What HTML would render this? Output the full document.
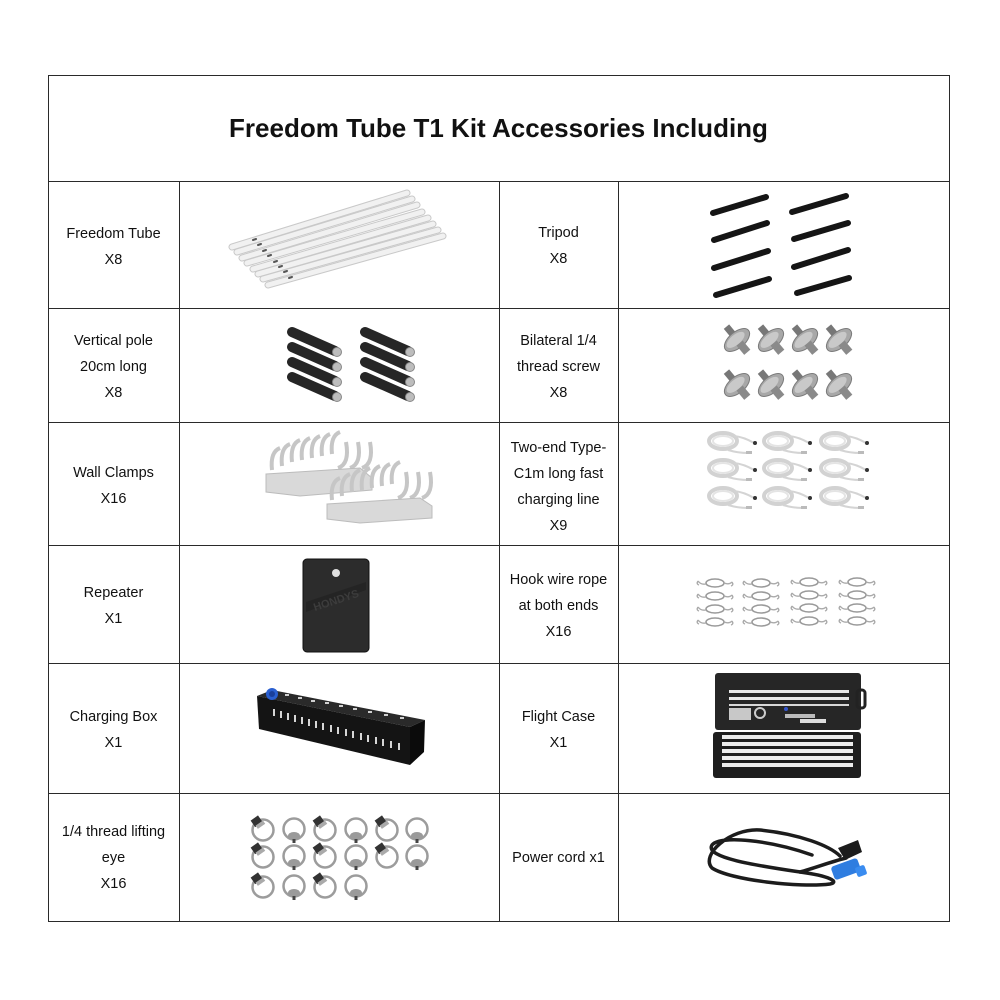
<!DOCTYPE html>
<html><head><meta charset="utf-8"><style>
html,body{margin:0;padding:0;background:#fff;}
body{width:1000px;height:1000px;position:relative;overflow:hidden;font-family:"Liberation Sans",Arial,sans-serif;color:#111;}
.h{position:absolute;height:1px;background:#2a2a2a;}
.v{position:absolute;width:1px;background:#2a2a2a;}
.t{position:absolute;display:flex;align-items:center;justify-content:center;text-align:center;font-size:14.5px;line-height:26px;white-space:nowrap;}
.title{position:absolute;left:48px;top:75px;width:901px;height:106px;display:flex;align-items:center;justify-content:center;font-weight:bold;font-size:26px;}
svg{position:absolute;left:0;top:0;}
</style></head><body>
<div class="h" style="left:48px;top:75px;width:902px"></div>
<div class="h" style="left:48px;top:181px;width:902px"></div>
<div class="h" style="left:48px;top:308px;width:902px"></div>
<div class="h" style="left:48px;top:422px;width:902px"></div>
<div class="h" style="left:48px;top:545px;width:902px"></div>
<div class="h" style="left:48px;top:663px;width:902px"></div>
<div class="h" style="left:48px;top:793px;width:902px"></div>
<div class="h" style="left:48px;top:921px;width:902px"></div>
<div class="v" style="left:48px;top:75px;height:847px"></div>
<div class="v" style="left:949px;top:75px;height:847px"></div>
<div class="v" style="left:179px;top:181px;height:741px"></div>
<div class="v" style="left:499px;top:181px;height:741px"></div>
<div class="v" style="left:618px;top:181px;height:741px"></div>

<div class="title">Freedom Tube T1 Kit Accessories Including</div>

<div class="t" style="left:48px;top:184px;width:131px;height:126px">Freedom Tube<br>X8</div>
<div class="t" style="left:48px;top:310px;width:131px;height:114px">Vertical pole<br>20cm long<br>X8</div>
<div class="t" style="left:48px;top:424px;width:131px;height:123px">Wall Clamps<br>X16</div>
<div class="t" style="left:48px;top:547px;width:131px;height:118px">Repeater<br>X1</div>
<div class="t" style="left:48px;top:665px;width:131px;height:129px">Charging Box<br>X1</div>
<div class="t" style="left:48px;top:795px;width:131px;height:126px">1/4 thread lifting<br>eye<br>X16</div>

<div class="t" style="left:499px;top:183px;width:119px;height:126px">Tripod<br>X8</div>
<div class="t" style="left:499px;top:310px;width:119px;height:114px">Bilateral 1/4<br>thread screw<br>X8</div>
<div class="t" style="left:499px;top:425px;width:119px;height:123px">Two-end Type-<br>C1m long fast<br>charging line<br>X9</div>
<div class="t" style="left:499px;top:547px;width:119px;height:118px">Hook wire rope<br>at both ends<br>X16</div>
<div class="t" style="left:499px;top:665px;width:119px;height:129px">Flight Case<br>X1</div>
<div class="t" style="left:499px;top:795px;width:119px;height:126px">Power cord x1</div>

<svg width="1000" height="1000" viewBox="0 0 1000 1000" xmlns="http://www.w3.org/2000/svg">
<!-- Freedom tubes -->
<g stroke-linecap="round">
<g stroke="#c9c9c9" stroke-width="7">
<line x1="232" y1="247" x2="407" y2="193"/>
<line x1="237" y1="252" x2="412" y2="199"/>
<line x1="242" y1="258" x2="417" y2="205"/>
<line x1="247" y1="263" x2="422" y2="212"/>
<line x1="253" y1="269" x2="428" y2="218"/>
<line x1="258" y1="274" x2="433" y2="224"/>
<line x1="263" y1="279" x2="438" y2="230"/>
<line x1="268" y1="285" x2="443" y2="236"/>
</g>
<g stroke="#f1f1f1" stroke-width="5">
<line x1="232" y1="247" x2="407" y2="193"/>
<line x1="237" y1="252" x2="412" y2="199"/>
<line x1="242" y1="258" x2="417" y2="205"/>
<line x1="247" y1="263" x2="422" y2="212"/>
<line x1="253" y1="269" x2="428" y2="218"/>
<line x1="258" y1="274" x2="433" y2="224"/>
<line x1="263" y1="279" x2="438" y2="230"/>
<line x1="268" y1="285" x2="443" y2="236"/>
</g>
<g stroke="#555" stroke-width="2">
<line x1="253" y1="240" x2="256" y2="239"/>
<line x1="258" y1="245" x2="261" y2="244"/>
<line x1="263" y1="251" x2="266" y2="250"/>
<line x1="268" y1="256" x2="271" y2="255"/>
<line x1="274" y1="262" x2="277" y2="261"/>
<line x1="279" y1="267" x2="282" y2="266"/>
<line x1="284" y1="272" x2="287" y2="271"/>
<line x1="289" y1="278" x2="292" y2="277"/>
</g>
</g>
<!-- Tripod sticks -->
<g stroke="#151515" stroke-width="6" stroke-linecap="round">
<line x1="713" y1="213" x2="766" y2="197"/>
<line x1="714" y1="240" x2="767" y2="223"/>
<line x1="714" y1="268" x2="768" y2="251"/>
<line x1="716" y1="295" x2="769" y2="279"/>
<line x1="792" y1="212" x2="846" y2="196"/>
<line x1="794" y1="239" x2="848" y2="223"/>
<line x1="794" y1="267" x2="848" y2="250"/>
<line x1="797" y1="293" x2="849" y2="278"/>
</g>
<!-- Vertical poles -->
<g stroke="#262626" stroke-width="10" stroke-linecap="round">
<line x1="292" y1="332" x2="335" y2="351"/>
<line x1="292" y1="347" x2="335" y2="366"/>
<line x1="292" y1="362" x2="335" y2="381"/>
<line x1="292" y1="377" x2="335" y2="396"/>
<line x1="365" y1="332" x2="408" y2="351"/>
<line x1="365" y1="347" x2="408" y2="366"/>
<line x1="365" y1="362" x2="408" y2="381"/>
<line x1="365" y1="377" x2="408" y2="396"/>
</g>
<g fill="#bdbdbd" stroke="#888" stroke-width="1">
<circle cx="337" cy="352" r="4.5"/><circle cx="337" cy="367" r="4.5"/><circle cx="337" cy="382" r="4.5"/><circle cx="337" cy="397" r="4.5"/>
<circle cx="410" cy="352" r="4.5"/><circle cx="410" cy="367" r="4.5"/><circle cx="410" cy="382" r="4.5"/><circle cx="410" cy="397" r="4.5"/>
</g>
<!-- Bilateral screws -->
<defs>
<g id="scr">
<rect x="-3" y="-17" width="7" height="10" fill="#777" transform="rotate(-40)"/>
<ellipse cx="0" cy="0" rx="15" ry="8" fill="#a8a8a8" stroke="#7a7a7a" stroke-width="1" transform="rotate(-40)"/>
<ellipse cx="-1" cy="-1" rx="11" ry="5" fill="#c9c9c9" transform="rotate(-40)"/>
<rect x="-4" y="4" width="8" height="12" fill="#8a8a8a" transform="rotate(-40)"/>
</g>
<g id="cab">
<ellipse cx="15" cy="10" rx="14" ry="8" fill="none" stroke="#d2d2d2" stroke-width="4"/>
<ellipse cx="15" cy="10" rx="10" ry="5" fill="none" stroke="#e4e4e4" stroke-width="2"/>
<path d="M26 5 Q36 6 46 12" fill="none" stroke="#d4d4d4" stroke-width="2"/>
<circle cx="47" cy="12" r="2" fill="#333"/>
<path d="M20 19 Q30 22 40 22" fill="none" stroke="#d4d4d4" stroke-width="2"/>
<rect x="38" y="20" width="6" height="3" fill="#bbb"/>
</g>
<g id="hk">
<ellipse cx="0" cy="0" rx="9" ry="4" fill="none" stroke="#9a9a9a" stroke-width="1.6"/>
<path d="M-9 1 Q-14 2 -17 -2 M-17 -2 q-2 3 1 4" fill="none" stroke="#aaa" stroke-width="1.4"/>
<path d="M9 0 Q14 2 17 -1 M17 -1 q2 3 -1 4" fill="none" stroke="#aaa" stroke-width="1.4"/>
</g>
<g id="eyeA">
<circle cx="0" cy="0" r="10.5" fill="none" stroke="#9c9c9c" stroke-width="2.5"/>
<rect x="-11" y="-13" width="9" height="8" fill="#333" transform="rotate(-35 -6 -9)"/>
<rect x="-7" y="-7" width="9" height="4" fill="#aaa" transform="rotate(-35 -3 -5)"/>
</g>
<g id="eyeB">
<circle cx="0" cy="-1" r="10.5" fill="none" stroke="#9c9c9c" stroke-width="2.5"/>
<ellipse cx="0" cy="6" rx="6" ry="4" fill="#9a9a9a"/>
<rect x="-1.5" y="9" width="3" height="4" fill="#444"/>
</g>
</defs>
<use href="#scr" x="737" y="340"/><use href="#scr" x="771" y="340"/><use href="#scr" x="805" y="340"/><use href="#scr" x="839" y="340"/>
<use href="#scr" x="737" y="385"/><use href="#scr" x="771" y="385"/><use href="#scr" x="805" y="385"/><use href="#scr" x="839" y="385"/>
<!-- Wall clamps -->
<g>
<g fill="none" stroke="#c6c6c6" stroke-width="4">
<path d="M272 470 q-2 -18 8 -22"/><path d="M282 466 q-2 -18 8 -22"/><path d="M292 462 q-2 -18 8 -22"/><path d="M302 460 q-2 -18 8 -22"/><path d="M312 458 q-2 -18 8 -22"/><path d="M322 456 q-2 -18 8 -22"/><path d="M332 454 q-2 -18 8 -22"/>
<path d="M338 468 q12 -4 8 -26"/><path d="M350 468 q12 -4 8 -26"/><path d="M362 468 q12 -4 8 -26"/>
</g>
<polygon points="266,474 360,468 372,478 372,490 300,496 266,492" fill="#d9d9d9" stroke="#bcbcbc" stroke-width="1"/>
<g fill="none" stroke="#c6c6c6" stroke-width="4">
<path d="M332 500 q-2 -18 8 -22"/><path d="M342 496 q-2 -18 8 -22"/><path d="M352 492 q-2 -18 8 -22"/><path d="M362 490 q-2 -18 8 -22"/><path d="M372 488 q-2 -18 8 -22"/><path d="M382 486 q-2 -18 8 -22"/><path d="M392 484 q-2 -18 8 -22"/>
<path d="M398 498 q12 -4 8 -26"/><path d="M410 498 q12 -4 8 -26"/><path d="M422 498 q12 -4 8 -26"/>
</g>
<polygon points="327,504 420,498 432,506 432,518 360,523 327,519" fill="#d9d9d9" stroke="#bcbcbc" stroke-width="1"/>
</g>
<!-- Type-C cables -->
<use href="#cab" x="708" y="431"/><use href="#cab" x="763" y="431"/><use href="#cab" x="820" y="431"/>
<use href="#cab" x="708" y="458"/><use href="#cab" x="763" y="458"/><use href="#cab" x="820" y="458"/>
<use href="#cab" x="708" y="486"/><use href="#cab" x="763" y="486"/><use href="#cab" x="820" y="486"/>
<!-- Hook wire rope -->
<g>
<use href="#hk" x="715" y="583"/><use href="#hk" x="761" y="583"/><use href="#hk" x="809" y="582"/><use href="#hk" x="857" y="582"/>
<use href="#hk" x="715" y="596"/><use href="#hk" x="761" y="596"/><use href="#hk" x="809" y="595"/><use href="#hk" x="857" y="595"/>
<use href="#hk" x="715" y="609"/><use href="#hk" x="761" y="609"/><use href="#hk" x="809" y="608"/><use href="#hk" x="857" y="608"/>
<use href="#hk" x="715" y="622"/><use href="#hk" x="761" y="622"/><use href="#hk" x="809" y="621"/><use href="#hk" x="857" y="621"/>
</g>
<!-- Repeater -->
<rect x="303" y="559" width="66" height="93" rx="4" fill="#2c2c2c" stroke="#111" stroke-width="1"/>
<polygon points="306,602 366,582 366,590 306,612" fill="#242424"/>
<text x="336" y="604" font-family="Liberation Sans, sans-serif" font-size="11" font-weight="bold" fill="#3c3c3c" text-anchor="middle" transform="rotate(-18 336 600)">HONDYS</text>
<circle cx="336" cy="573" r="4" fill="#e0e0e0"/>
<!-- Charging box -->
<polygon points="257,696 272,690 425,720 410,727" fill="#2a2a2a"/>
<polygon points="257,696 410,727 410,765 259,729" fill="#141414"/>
<polygon points="410,727 425,720 424,752 410,765" fill="#0b0b0b"/>
<circle cx="272" cy="694" r="6" fill="#2a5fd0"/>
<circle cx="272" cy="694" r="3" fill="#1a3f9a"/>
<g fill="#cfcfcf">
<rect x="285" y="694" width="4" height="2"/><rect x="298" y="697" width="4" height="2"/><rect x="311" y="700" width="4" height="2"/><rect x="325" y="702" width="4" height="2"/><rect x="339" y="705" width="4" height="2"/><rect x="353" y="708" width="4" height="2"/><rect x="368" y="711" width="4" height="2"/><rect x="384" y="714" width="4" height="2"/><rect x="400" y="717" width="4" height="2"/>
</g>
<g fill="#d6d6d6">
<rect x="273" y="709" width="2" height="7"/><rect x="280" y="711" width="2" height="7"/><rect x="287" y="713" width="2" height="7"/><rect x="294" y="715" width="2" height="7"/><rect x="301" y="717" width="2" height="7"/><rect x="308" y="719" width="2" height="7"/><rect x="315" y="721" width="2" height="7"/><rect x="322" y="723" width="2" height="7"/><rect x="330" y="725" width="2" height="7"/><rect x="337" y="727" width="2" height="7"/><rect x="345" y="729" width="2" height="7"/><rect x="352" y="731" width="2" height="7"/><rect x="360" y="733" width="2" height="7"/><rect x="367" y="735" width="2" height="7"/><rect x="375" y="737" width="2" height="7"/><rect x="382" y="739" width="2" height="7"/><rect x="390" y="741" width="2" height="7"/><rect x="398" y="743" width="2" height="7"/>
</g>
<!-- Flight case -->
<rect x="715" y="673" width="146" height="57" rx="3" fill="#262626"/>
<rect x="857" y="690" width="8" height="18" rx="3" fill="none" stroke="#222" stroke-width="3"/>
<rect x="729" y="690" width="120" height="3" fill="#e8e8e8"/>
<rect x="729" y="697" width="120" height="3" fill="#e8e8e8"/>
<rect x="729" y="704" width="120" height="2" fill="#d8d8d8"/>
<rect x="729" y="708" width="22" height="12" fill="#c8c8c8"/>
<circle cx="760" cy="713" r="5" fill="none" stroke="#ccc" stroke-width="2"/>
<rect x="785" y="714" width="30" height="4" fill="#bbb"/>
<rect x="800" y="719" width="26" height="4" fill="#ddd"/>
<circle cx="786" cy="709" r="2" fill="#3355cc"/>
<rect x="713" y="732" width="148" height="46" rx="3" fill="#1e1e1e"/>
<rect x="722" y="735" width="131" height="4" fill="#ececec"/>
<rect x="722" y="742" width="131" height="4" fill="#ececec"/>
<rect x="722" y="749" width="131" height="4" fill="#ececec"/>
<rect x="722" y="756" width="131" height="4" fill="#ececec"/>
<rect x="722" y="763" width="131" height="4" fill="#ececec"/>
<!-- Power cord -->
<g fill="none" stroke="#1c1c1c" stroke-width="3.5" stroke-linecap="round">
<path d="M812 855 C770 840 720 835 712 845 C704 858 760 866 800 872 C830 876 840 882 830 884 C800 888 730 880 712 868 C700 855 730 828 760 830 C800 834 830 846 840 856"/>
<path d="M800 872 C815 868 830 862 846 858"/>
</g>
<polygon points="838,848 858,840 862,852 845,860" fill="#1c1c1c"/>
<rect x="832" y="862" width="28" height="14" rx="3" fill="#2f7de0" transform="rotate(-20 846 869)"/>
<rect x="856" y="866" width="10" height="10" rx="2" fill="#3a8cf0" transform="rotate(-20 861 871)"/>
<!-- Lifting eyes -->
<use href="#eyeA" x="263" y="830"/><use href="#eyeB" x="294" y="830"/><use href="#eyeA" x="325" y="830"/><use href="#eyeB" x="356" y="830"/><use href="#eyeA" x="387" y="830"/><use href="#eyeB" x="417" y="830"/>
<use href="#eyeA" x="263" y="857"/><use href="#eyeB" x="294" y="857"/><use href="#eyeA" x="325" y="857"/><use href="#eyeB" x="356" y="857"/><use href="#eyeA" x="387" y="857"/><use href="#eyeB" x="417" y="857"/>
<use href="#eyeA" x="263" y="887"/><use href="#eyeB" x="294" y="887"/><use href="#eyeA" x="325" y="887"/><use href="#eyeB" x="356" y="887"/>
</svg>
</body></html>
